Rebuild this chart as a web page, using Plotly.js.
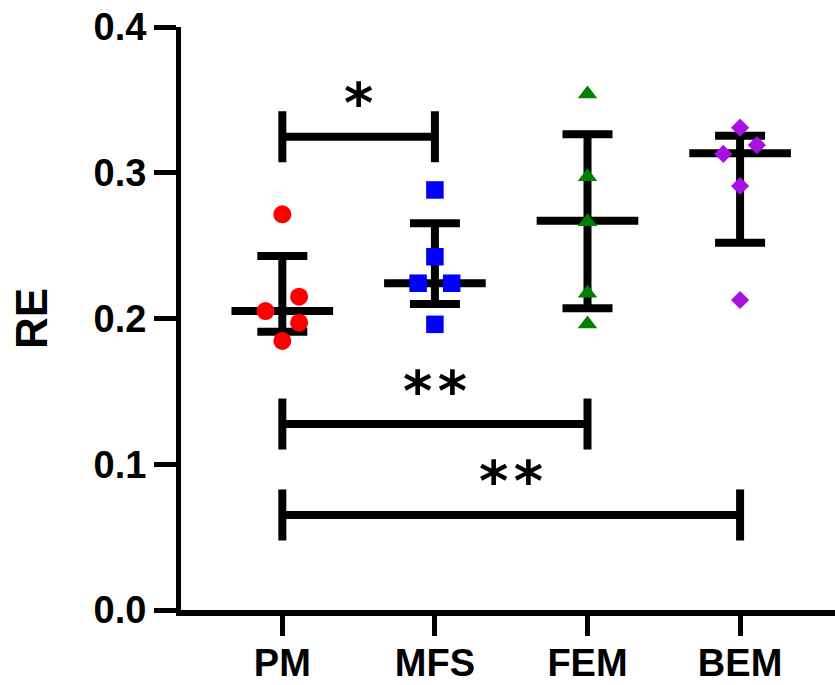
<!DOCTYPE html>
<html>
<head>
<meta charset="utf-8">
<script src="https://cdn.plot.ly/plotly-3.0.1.min.js"></script>
<style>html,body{margin:0;padding:0;background:#fff;}#chart{width:835px;height:685px;}</style>
</head>
<body>
<div id="chart"></div>
<script>
// ---- data ----
const categories = ['PM', 'MFS', 'FEM', 'BEM'];
const pmValues  = [0.2715, 0.2150, 0.2051, 0.1971, 0.1846];
const mfsValues = [0.2882, 0.2424, 0.2242, 0.2242, 0.1960];
const femValues = [0.3540, 0.2973, 0.2664, 0.2173, 0.1962];
const bemValues = [0.3309, 0.3190, 0.3129, 0.2909, 0.2127];
// horizontal column of each point inside its group (-1 left, 0 centre, +1 right)
const pmColumn  = [0, 1, -1, 1, 0];
const mfsColumn = [0, 0, -1, 1, 0];
const femColumn = [0, 0, 0, 0, 0];
const bemColumn = [0, 1, -1, 0, 0];
// median and interquartile range
const medians = [0.2051, 0.2242, 0.2671, 0.3133];
const q1      = [0.1909, 0.2099, 0.2070, 0.2520];
const q3      = [0.2429, 0.2653, 0.3264, 0.3254];
// significance brackets
const bracketFrom  = [0, 0, 0];
const bracketTo    = [1, 2, 3];
const bracketY     = [0.3247, 0.1276, 0.0652];
const bracketLabel = ['*', '**', '**'];

// ---- styles ----
const colors  = ['#FF0000', '#0000FF', '#008000', '#A610E0'];
const symbols = ['circle', 'square', 'triangle-up', 'diamond'];
const sizes   = [18, 17.5, 17, 14];
const jitterStep = 0.11;
const medianHalf = 0.333;
const bracketHalf = 0.0175;
const FONT = 'Liberation Sans, Arial, sans-serif';

const groups = [pmValues, mfsValues, femValues, bemValues];
const columns = [pmColumn, mfsColumn, femColumn, bemColumn];
const traces = [];

// median + IQR
traces.push({
  type: 'scatter', mode: 'markers',
  x: categories.map((c, i) => i), y: medians,
  marker: {size: 1, opacity: 0},
  error_y: {type: 'data', symmetric: false,
            array: medians.map((m, i) => q3[i] - m),
            arrayminus: medians.map((m, i) => m - q1[i]),
            color: '#000', thickness: 8, width: 25},
  error_x: {type: 'constant', value: medianHalf, color: '#000', thickness: 8, width: 0},
  hoverinfo: 'skip', showlegend: false
});

// brackets
bracketFrom.forEach((a, k) => {
  const b = bracketTo[k], y = bracketY[k];
  traces.push({
    type: 'scatter', mode: 'lines',
    x: [a, a, null, a, b, null, b, b],
    y: [y + bracketHalf, y - bracketHalf, null, y, y, null, y + bracketHalf, y - bracketHalf],
    line: {color: '#000', width: 8},
    hoverinfo: 'skip', showlegend: false
  });
});

// points
groups.forEach((vals, i) => {
  traces.push({
    type: 'scatter', mode: 'markers',
    x: vals.map((v, j) => i + columns[i][j] * jitterStep), y: vals,
    marker: {symbol: symbols[i], color: colors[i], size: sizes[i], line: {width: 0}},
    name: categories[i], showlegend: false
  });
});

const annotations = bracketLabel.map((t, k) => ({
  x: (bracketFrom[k] + bracketTo[k]) / 2, y: bracketY[k],
  xref: 'x', yref: 'y', text: t.split('').join('\u200A'), showarrow: false,
  xanchor: 'center', yanchor: 'middle', yshift: 34,
  font: {family: 'DejaVu Sans, sans-serif', size: 56, color: '#000', weight: 'bold'}
}));

const layout = {
  width: 835, height: 685,
  margin: {l: 181, r: 0, t: 27, b: 75, pad: 0},
  paper_bgcolor: '#fff', plot_bgcolor: '#fff',
  showlegend: false,
  xaxis: {
    range: [-0.664, 3.622], tickvals: categories.map((c, i) => i), ticktext: categories,
    showgrid: false, zeroline: false, showline: true, linecolor: '#000', linewidth: 6,
    ticks: 'outside', ticklen: 20, tickwidth: 5, tickcolor: '#000',
    ticklabelstandoff: -6,
    tickfont: {family: FONT, size: 38, color: '#000', weight: 'bold'}
  },
  yaxis: {
    range: [0, 0.4], tickvals: [0, 0.1, 0.2, 0.3, 0.4], ticktext: ['0.0', '0.1', '0.2', '0.3', '0.4'],
    showgrid: false, zeroline: false, showline: true, linecolor: '#000', linewidth: 5,
    ticks: 'outside', ticklen: 22, tickwidth: 5, tickcolor: '#000',
    tickfont: {family: FONT, size: 38, color: '#000', weight: 'bold'},
    title: {text: 'RE', font: {family: FONT, size: 44, color: '#000', weight: 'bold'}, standoff: 34}
  },
  annotations: annotations
};

Plotly.newPlot('chart', traces, layout, {displayModeBar: false, staticPlot: true});
</script>
</body>
</html>
